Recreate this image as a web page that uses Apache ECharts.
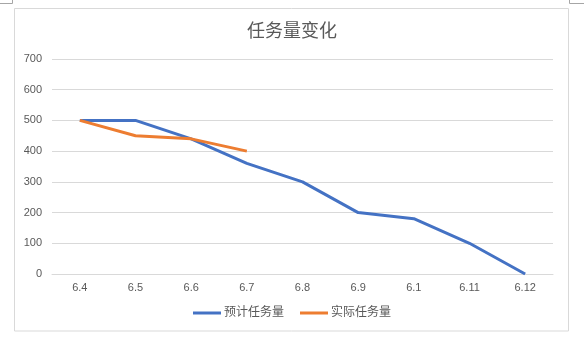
<!DOCTYPE html>
<html>
<head>
<meta charset="utf-8">
<script src="https://cdn.jsdelivr.net/npm/echarts@6/dist/echarts.min.js"></script>
<style>html,body{margin:0;padding:0;background:#fff;}#c{width:584px;height:340px;}</style>
</head>
<body>
<div id="c"></div>
<script>
const title = '任务量变化';
const categories = ['6.4','6.5','6.6','6.7','6.8','6.9','6.1','6.11','6.12'];
const planned = [500, 500, 440, 360, 300, 200, 180, 100, 0];
const actual = [500, 450, 440, 400];
const seriesNames = ['预计任务量', '实际任务量'];
const FONT = '"Liberation Sans", "Noto Sans CJK SC", sans-serif';
const chart = echarts.init(document.getElementById('c'), null, {renderer: 'canvas'});
chart.setOption({
  animation: false,
  backgroundColor: '#fff',
  textStyle: {fontFamily: FONT},
  title: {
    text: title, left: 'center', top: 18,
    textStyle: {fontSize: 18, fontWeight: 'normal', color: '#595959', fontFamily: FONT}
  },
  graphic: [
    {type: 'rect', shape: {x: 14.5, y: 8.5, width: 554, height: 322.5}, style: {fill: 'none', stroke: '#d9d9d9', lineWidth: 1}, silent: true},
    {type: 'polyline', shape: {points: [[0, 3.5], [12.5, 3.5], [12.5, 0]]}, style: {fill: 'none', stroke: '#a6a6a6', lineWidth: 1}, silent: true},
    {type: 'polyline', shape: {points: [[569.5, 0], [569.5, 3.5], [584, 3.5]]}, style: {fill: 'none', stroke: '#a6a6a6', lineWidth: 1}, silent: true}
  ],
  legend: {
    bottom: 16, left: 'center',
    icon: 'rect', itemWidth: 28, itemHeight: 3, itemGap: 16,
    textStyle: {fontSize: 12, color: '#595959', padding: [0, 0, 0, -2]},
    data: seriesNames
  },
  grid: {left: 52, right: 31, top: 59, bottom: 66, containLabel: false},
  xAxis: {
    type: 'category', data: categories, boundaryGap: true,
    axisLine: {show: true, lineStyle: {color: '#d9d9d9'}},
    axisTick: {show: false},
    axisLabel: {color: '#595959', fontSize: 11, margin: 8}
  },
  yAxis: {
    type: 'value', min: 0, max: 700, interval: 100,
    axisLine: {show: false}, axisTick: {show: false},
    axisLabel: {color: '#595959', fontSize: 11, margin: 10},
    splitLine: {lineStyle: {color: '#d9d9d9', width: 1}}
  },
  series: [
    {name: seriesNames[0], type: 'line', data: planned, symbol: 'none', lineStyle: {width: 3, color: '#4472C4'}, itemStyle: {color: '#4472C4'}},
    {name: seriesNames[1], type: 'line', data: actual, symbol: 'none', lineStyle: {width: 3, color: '#ED7D31'}, itemStyle: {color: '#ED7D31'}}
  ]
});
</script>
</body>
</html>
